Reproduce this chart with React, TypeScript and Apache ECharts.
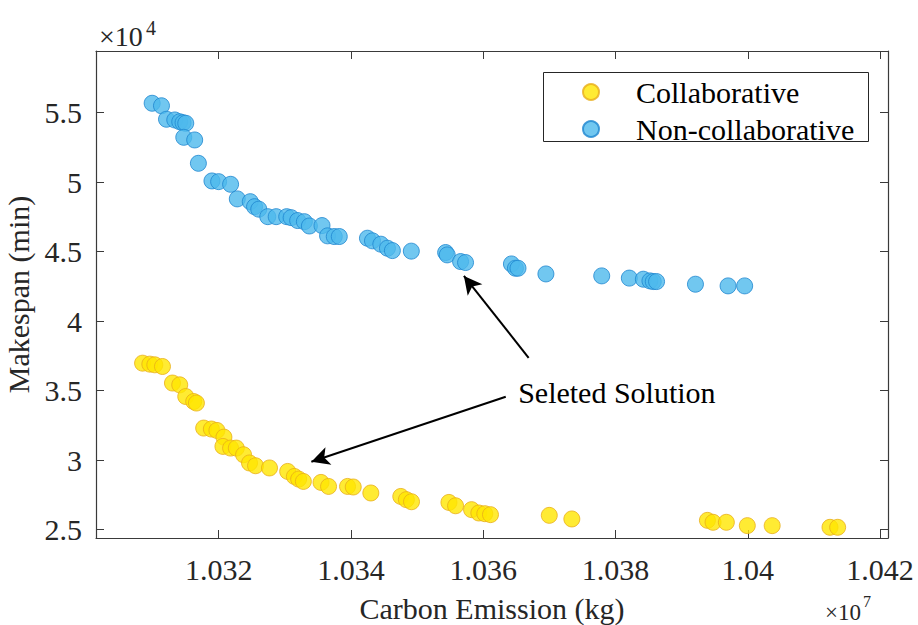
import React, { useEffect, useRef } from "react";
import * as echarts from "echarts";

// Carbon emission in units of 1e7 kg, makespan in units of 1e4 min
const collabX = [1.03085, 1.03096, 1.031035, 1.031151, 1.031302, 1.031412, 1.031503, 1.031623, 1.031664, 1.031774,
  1.03189, 1.031974, 1.03208, 1.032065, 1.032181, 1.032267, 1.032377, 1.032467, 1.032558, 1.032769,
  1.033044, 1.033145, 1.03321, 1.033281, 1.033548, 1.033662, 1.033949, 1.034035, 1.034301, 1.034754,
  1.034838, 1.034916, 1.035482, 1.035582, 1.035824, 1.035934, 1.036024, 1.03611, 1.036999, 1.03734,
  1.03939, 1.039475, 1.039676, 1.039993, 1.040369, 1.041243, 1.041359];
const collabY = [3.698, 3.691, 3.686, 3.674, 3.555, 3.542, 3.458, 3.422, 3.411, 3.231,
  3.224, 3.214, 3.166, 3.099, 3.087, 3.087, 3.039, 2.98, 2.96, 2.944,
  2.919, 2.883, 2.864, 2.847, 2.84, 2.811, 2.811, 2.807, 2.764, 2.739,
  2.716, 2.701, 2.696, 2.672, 2.644, 2.62, 2.615, 2.608, 2.603, 2.577,
  2.567, 2.553, 2.553, 2.529, 2.529, 2.517, 2.517];

const nonCollabX = [1.030995, 1.031136, 1.031212, 1.031337, 1.031412, 1.031462, 1.031503, 1.031473, 1.031638, 1.031694,
  1.031899, 1.032, 1.032181, 1.032282, 1.032478, 1.032543, 1.032607, 1.032743, 1.03287, 1.033029,
  1.033096, 1.033195, 1.033296, 1.033372, 1.033563, 1.033647, 1.033748, 1.033824, 1.03425, 1.034326,
  1.034452, 1.034552, 1.034627, 1.034913, 1.035432, 1.035456, 1.035658, 1.035733, 1.036427, 1.036487,
  1.036526, 1.036948, 1.037792, 1.038209, 1.038421, 1.038521, 1.038571, 1.038621, 1.039209, 1.039702,
  1.039953];
const nonCollabY = [5.568, 5.55, 5.453, 5.448, 5.435, 5.428, 5.424, 5.323, 5.304, 5.136,
  5.009, 5.004, 4.985, 4.88, 4.86, 4.824, 4.806, 4.752, 4.752, 4.752,
  4.745, 4.724, 4.716, 4.685, 4.688, 4.614, 4.609, 4.609, 4.597, 4.578,
  4.554, 4.525, 4.508, 4.504, 4.494, 4.477, 4.429, 4.422, 4.412, 4.381,
  4.381, 4.34, 4.326, 4.31, 4.302, 4.29, 4.285, 4.285, 4.266, 4.254,
  4.254];

const xTicks = [1.032, 1.034, 1.036, 1.038, 1.04, 1.042];
const yTicks = [2.5, 3, 3.5, 4, 4.5, 5, 5.5];

const seriesNames = ["Collaborative", "Non-collaborative"];
const annotationText = "Seleted Solution";
// arrows: [tail, head] in data units
const arrowNonCollab = [[1.036687, 3.7365], [1.035708, 4.326]];
const arrowCollab = [[1.036341, 3.456], [1.033402, 2.989]];
const annotationPos = [1.038021, 3.485];

const FONT = '"Liberation Serif", "Times New Roman", serif';
const AXIS_COLOR = "#3a3a3a";

export default function App() {
  const ref = useRef<HTMLDivElement>(null);
  useEffect(() => {
    if (!ref.current) return;
    const chart = echarts.init(ref.current, undefined, { renderer: "svg" });
    const collabData = collabX.map((x, i) => [x, collabY[i]]);
    const nonCollabData = nonCollabX.map((x, i) => [x, nonCollabY[i]]);
    const xRange = { min: 1.030146, max: 1.04212 };
    const yRange = { min: 2.44, max: 5.944 };
    const tickCommon = {
      show: true,
      inside: true,
      length: 8,
      lineStyle: { color: AXIS_COLOR, width: 1 },
    };
    const lineCommon = { show: true, onZero: false, lineStyle: { color: AXIS_COLOR, width: 1.2 } };
    const labelStyle = { color: "#262626", fontFamily: FONT, fontSize: 30 };

    chart.setOption({
      animation: false,
      backgroundColor: "#ffffff",
      grid: {
        left: 96,
        top: 51,
        right: 30,
        bottom: 87,
        containLabel: false,
        outerBoundsMode: "none",
      },
      xAxis: [
        {
          type: "value",
          position: "bottom",
          ...xRange,
          axisLine: lineCommon,
          axisTick: { ...tickCommon, customValues: xTicks },
          axisLabel: { ...labelStyle, margin: 16, customValues: xTicks },
          splitLine: { show: false },
          name: "Carbon Emission (kg)",
          nameLocation: "middle",
          nameGap: 55,
          nameTextStyle: { color: "#262626", fontFamily: FONT, fontSize: 30 },
        },
        {
          type: "value",
          position: "top",
          ...xRange,
          axisLine: lineCommon,
          axisTick: { ...tickCommon, customValues: xTicks },
          axisLabel: { show: false },
          splitLine: { show: false },
        },
      ],
      yAxis: [
        {
          type: "value",
          position: "left",
          ...yRange,
          axisLine: lineCommon,
          axisTick: { ...tickCommon, customValues: yTicks },
          axisLabel: { ...labelStyle, margin: 14, customValues: yTicks },
          splitLine: { show: false },
          name: "Makespan (min)",
          nameLocation: "middle",
          nameGap: 52,
          nameTextStyle: { color: "#262626", fontFamily: FONT, fontSize: 30 },
        },
        {
          type: "value",
          position: "right",
          ...yRange,
          axisLine: lineCommon,
          axisTick: { ...tickCommon, customValues: yTicks },
          axisLabel: { show: false },
          splitLine: { show: false },
        },
      ],
      legend: {
        data: seriesNames,
        orient: "vertical",
        left: 582,
        top: 77,
        padding: 0,
        itemWidth: 16,
        itemHeight: 16,
        itemGap: 7,
        icon: "circle",
        selectedMode: false,
        textStyle: { color: "#000", fontFamily: FONT, fontSize: 30, lineHeight: 30, padding: [0, 0, 0, 32] },
      },
      graphic: [
        {
          type: "rect",
          shape: { x: 543.5, y: 72.5, width: 325, height: 69 },
          style: { fill: "none", stroke: "#262626", lineWidth: 1 },
          silent: true,
        },
        {
          type: "text",
          style: { x: 99, y: 36, text: "×10", font: `28px ${FONT}`, lineHeight: 20, fill: "#262626", verticalAlign: "middle", align: "left" },
        },
        {
          type: "text",
          style: { x: 146, y: 28, text: "4", font: `20px ${FONT}`, lineHeight: 14, fill: "#262626", verticalAlign: "middle", align: "left" },
        },
        {
          type: "text",
          style: { x: 825, y: 612, text: "×10", font: `23px ${FONT}`, lineHeight: 16, fill: "#262626", verticalAlign: "middle", align: "left" },
        },
        {
          type: "text",
          style: { x: 863, y: 601, text: "7", font: `16px ${FONT}`, lineHeight: 11, fill: "#262626", verticalAlign: "middle", align: "left" },
        },
      ],
      series: [
        {
          name: seriesNames[0],
          type: "scatter",
          data: collabData,
          symbol: "circle",
          symbolSize: 16,
          itemStyle: { color: "#FFE600", borderColor: "#E8AE1A", borderWidth: 1 },
          markLine: {
            silent: true,
            symbol: ["none", "arrow"],
            symbolSize: [14, 18],
            label: { show: false },
            lineStyle: { color: "#000", width: 2, type: "solid" },
            data: [
              [{ coord: arrowNonCollab[0] }, { coord: arrowNonCollab[1] }],
              [{ coord: arrowCollab[0] }, { coord: arrowCollab[1] }],
            ],
          },
          markPoint: {
            silent: true,
            symbol: "rect",
            symbolSize: 1,
            itemStyle: { color: "transparent" },
            label: {
              show: true,
              position: "inside",
              formatter: annotationText,
              color: "#000",
              fontFamily: FONT,
              fontSize: 30,
            },
            data: [{ coord: annotationPos }],
          },
        },
        {
          name: seriesNames[1],
          type: "scatter",
          data: nonCollabData,
          symbol: "circle",
          symbolSize: 16,
          itemStyle: { color: "#4DB9EC", borderColor: "#1E86D0", borderWidth: 1 },
        },
      ],
    });
    return () => chart.dispose();
  }, []);
  return (
    <div
      ref={ref}
      style={{ position: "fixed", left: 0, top: 0, width: 918, height: 625, background: "#fff" }}
    />
  );
}
